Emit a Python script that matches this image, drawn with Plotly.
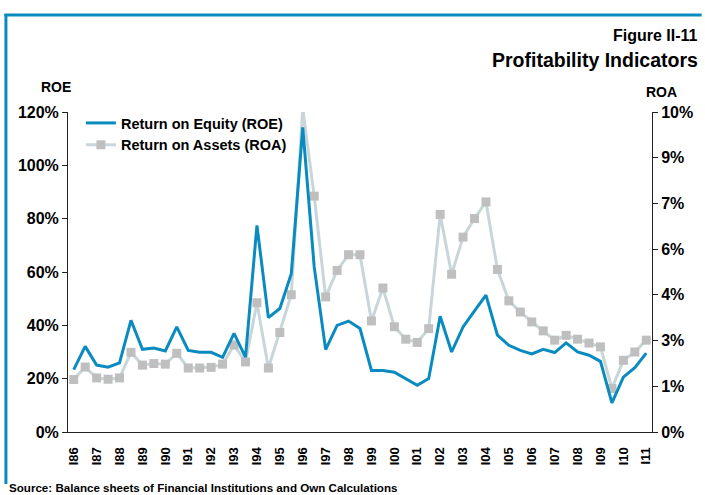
import plotly.graph_objects as go

# ---- data ----
years = ["86", "87", "88", "89", "90", "91", "92", "93", "94", "95", "96", "97", "98",
         "99", "00", "01", "02", "03", "04", "05", "06", "07", "08", "09", "10", "11"]
categories = []
for y in years:
    categories.append("I" + y)
    if y != "11":
        categories.append("II" + y)

roe = [23.4, 32.1, 25.1, 24.3, 25.9, 41.9, 31.0, 31.5, 30.4, 39.4,
       30.6, 29.9, 29.9, 28.0, 37.0, 28.1, 77.5, 42.9, 46.3, 59.4,
       114.2, 61.9, 30.9, 40.0, 41.6, 38.8, 23.1, 23.1, 22.4, 19.8,
       17.5, 20.0, 43.4, 30.0, 39.4, 45.4, 51.3, 36.3, 32.5, 30.6,
       29.3, 31.0, 29.8, 33.4, 30.0, 28.8, 26.5, 10.9, 20.6, 24.1, 29.6]

roa = [1.64, 2.03, 1.69, 1.65, 1.69, 2.49, 2.09, 2.14, 2.12, 2.46,
       2.00, 2.00, 2.02, 2.12, 2.72, 2.19, 4.04, 2.00, 3.11, 4.29,
       10.1, 7.37, 4.22, 5.05, 5.54, 5.54, 3.47, 4.50, 3.29, 2.90,
       2.80, 3.23, 6.80, 4.93, 6.09, 6.67, 7.19, 5.08, 4.10, 3.75,
       3.44, 3.16, 2.87, 3.02, 2.90, 2.78, 2.66, 1.36, 2.24, 2.50, 2.87]

x_ticklabels = ["I" + y for y in years]
left_ticks = [0, 20, 40, 60, 80, 100, 120]
left_ticklabels = ["0%", "20%", "40%", "60%", "80%", "100%", "120%"]
right_ticks = [i * 10 / 7 for i in range(8)]
right_ticklabels = ["0%", "1%", "3%", "4%", "6%", "7%", "9%", "10%"]

# ---- style ----
FONT = "Liberation Sans, Arial, sans-serif"
BLUE = "#0A8BC0"
ROA_LINE = "#C9D6D9"
ROA_MARK = "#BFBFBF"
AXC = "#222222"

W, H = 705, 495
L, R, T, B = 68, 49, 112, 63
PW, PH = W - L - R, H - T - B


def px(xp):
    return (xp - L) / PW


def py(yp):
    return (H - B - yp) / PH


fig = go.Figure()

fig.add_trace(go.Scatter(
    x=categories, y=roe, name="Return on Equity (ROE)", mode="lines",
    line=dict(color=BLUE, width=3), xaxis="x", yaxis="y2"))
fig.add_trace(go.Scatter(
    x=categories, y=roa, name="Return on Assets (ROA)", mode="lines+markers",
    line=dict(color=ROA_LINE, width=3),
    marker=dict(symbol="square", size=9, color=ROA_MARK),
    cliponaxis=False, xaxis="x", yaxis="y"))

n = len(categories)
bounds = [i - 0.5 for i in range(n + 1)]
bold = dict(family=FONT, color="#000000", weight="bold")

fig.update_layout(
    width=W, height=H,
    margin=dict(l=L, r=R, t=T, b=B),
    paper_bgcolor="white", plot_bgcolor="white",
    showlegend=True,
    legend=dict(x=px(81), y=py(107), xanchor="left", yanchor="top",
                font=dict(size=14.5, **bold), bgcolor="rgba(0,0,0,0)",
                traceorder="normal"),
    xaxis=dict(type="category", categoryorder="array", categoryarray=categories,
               range=[-0.5, n - 0.5], showline=True, linecolor=AXC, linewidth=1,
               tickmode="array", tickvals=x_ticklabels, ticktext=x_ticklabels,
               tickangle=-90, ticks="outside", ticklen=9, tickcolor="rgba(0,0,0,0)",
               tickfont=dict(size=13, **bold), showgrid=False, zeroline=False),
    xaxis2=dict(overlaying="x", anchor="y", side="bottom", range=[-0.5, n - 0.5],
                tickmode="array", tickvals=bounds, ticks="outside", ticklen=5,
                tickcolor=AXC, showticklabels=False, showgrid=False,
                zeroline=False, showline=False),
    xaxis3=dict(overlaying="x", anchor="y", side="bottom", range=[-0.5, n - 0.5],
                tickmode="array", tickvals=bounds, ticks="inside", ticklen=5,
                tickcolor=AXC, showticklabels=False, showgrid=False,
                zeroline=False, showline=False),
    yaxis=dict(range=[0, 10], side="right", anchor="x", showline=True,
               linecolor=AXC, linewidth=1, tickmode="array",
               tickvals=right_ticks, ticktext=right_ticklabels,
               ticks="outside", ticklen=5, tickcolor=AXC,
               tickfont=dict(size=16, **bold), showgrid=False, zeroline=False),
    yaxis2=dict(range=[0, 120], side="left", overlaying="y", anchor="x",
                showline=True, linecolor=AXC, linewidth=1, tickmode="array",
                tickvals=left_ticks, ticktext=left_ticklabels,
                ticks="outside", ticklen=5, tickcolor=AXC,
                tickfont=dict(size=16, **bold), showgrid=False, zeroline=False),
    yaxis3=dict(range=[0, 120], side="left", overlaying="y", anchor="x",
                tickmode="array", tickvals=left_ticks, ticks="inside", ticklen=5,
                tickcolor=AXC, showticklabels=False, showgrid=False,
                zeroline=False, showline=False),
    yaxis4=dict(range=[0, 10], side="right", overlaying="y", anchor="x",
                tickmode="array", tickvals=right_ticks, ticks="inside", ticklen=5,
                tickcolor=AXC, showticklabels=False, showgrid=False,
                zeroline=False, showline=False),
)

ann = [
    dict(text="Figure II-11", x=px(704), y=py(36), xanchor="right", yanchor="middle",
         font=dict(size=16, **bold)),
    dict(text="Profitability Indicators", x=px(704), y=py(60), xanchor="right",
         yanchor="middle", font=dict(size=19.5, **bold)),
    dict(text="ROE", x=px(55.5), y=py(87), xanchor="center", yanchor="middle",
         font=dict(size=14, **bold)),
    dict(text="ROA", x=px(666), y=py(92), xanchor="center", yanchor="middle",
         font=dict(size=14, **bold)),
    dict(text="Source: Balance sheets of Financial Institutions and Own Calculations",
         x=px(7), y=py(487), xanchor="left", yanchor="middle",
         font=dict(size=11.6, **bold)),
]
for a in ann:
    fig.add_annotation(xref="paper", yref="paper", showarrow=False, **a)

# blue frame (top and left edges)
fig.add_shape(type="line", xref="paper", yref="paper",
              x0=px(4), x1=px(706), y0=py(15), y1=py(15),
              line=dict(color=BLUE, width=3))
fig.add_shape(type="line", xref="paper", yref="paper",
              x0=px(5.5), x1=px(5.5), y0=py(14), y1=py(484),
              line=dict(color=BLUE, width=3))

fig.write_html("out.html",
               config={"displayModeBar": False},
               post_script="document.body.style.margin='0';"
                           "document.body.style.overflow='hidden';")
